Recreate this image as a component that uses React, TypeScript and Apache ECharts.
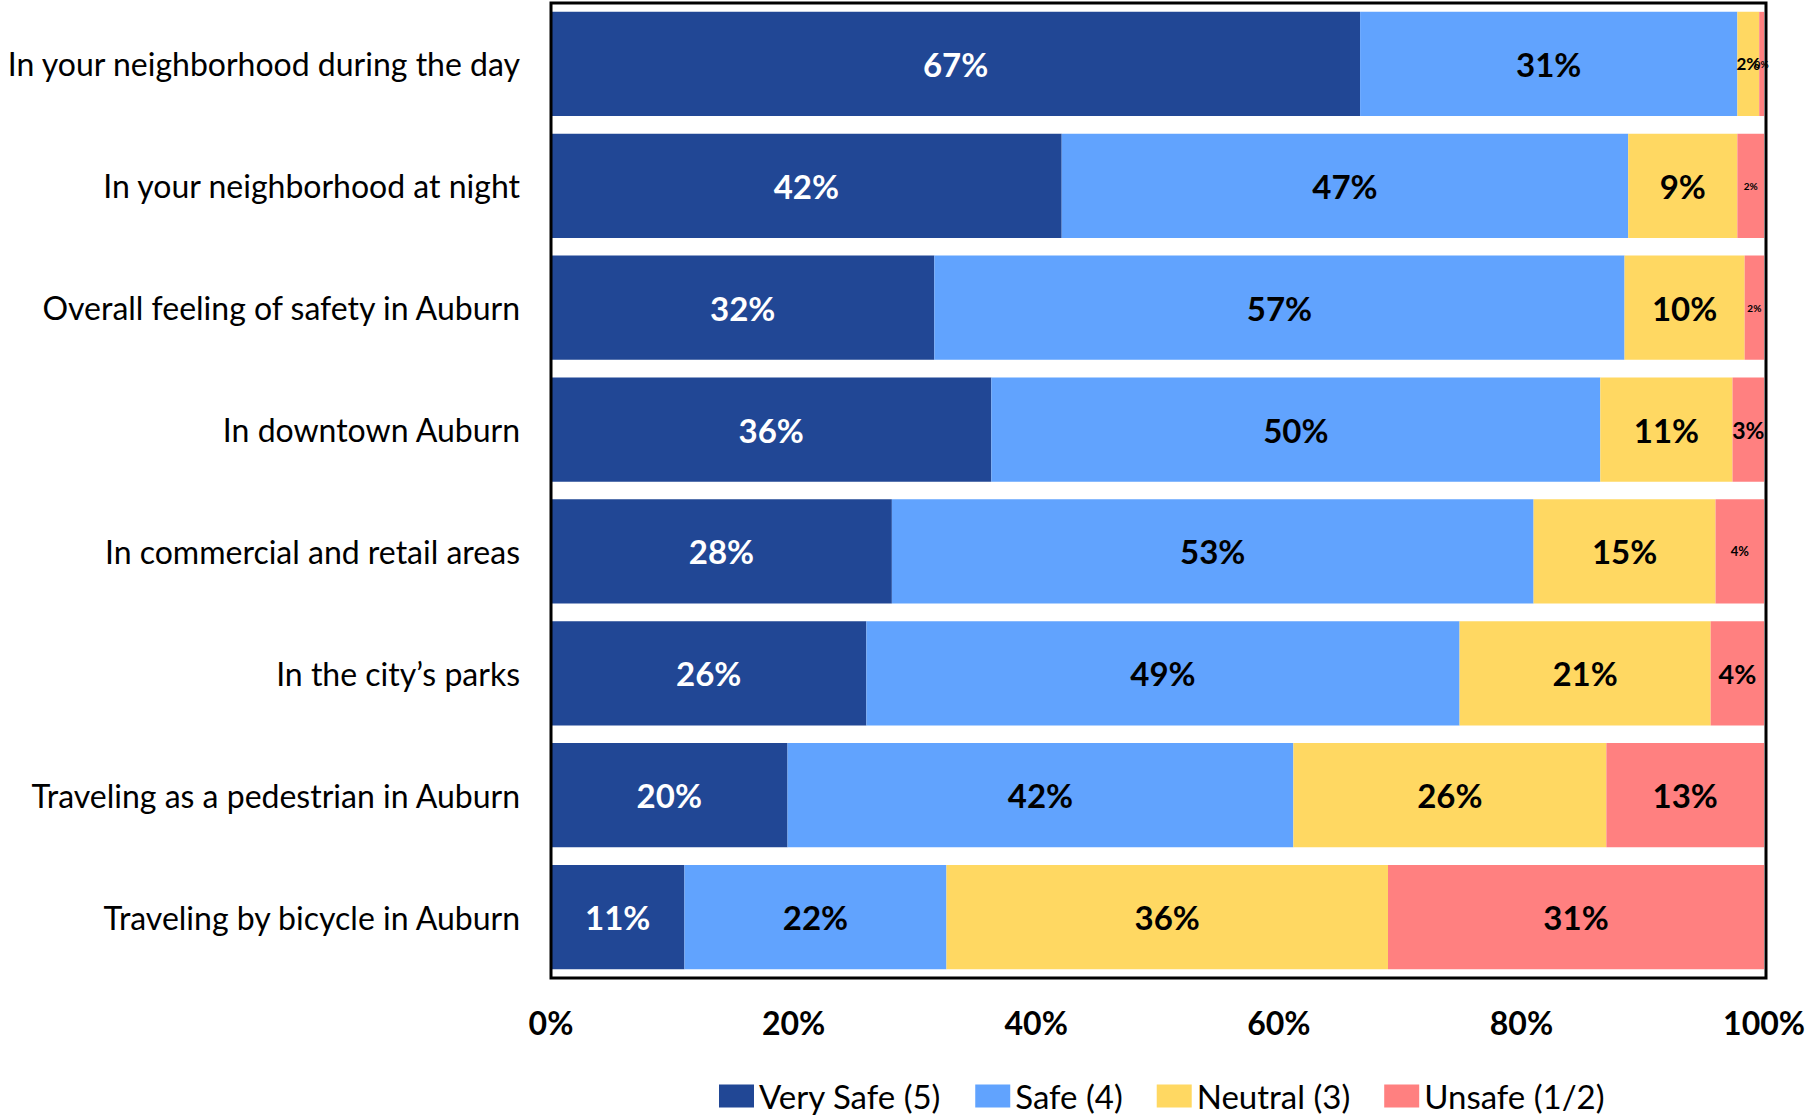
import React, { useEffect, useRef } from "react";
import * as echarts from "echarts";

// ---- data ----
const categories = [
  "In your neighborhood during the day",
  "In your neighborhood at night",
  "Overall feeling of safety in Auburn",
  "In downtown Auburn",
  "In commercial and retail areas",
  "In the city\u2019s parks",
  "Traveling as a pedestrian in Auburn",
  "Traveling by bicycle in Auburn",
];
const seriesNames = ["Very Safe (5)", "Safe (4)", "Neutral (3)", "Unsafe (1/2)"];
const verySafe = [66.7, 42.1, 31.6, 36.3, 28.1, 26.0, 19.5, 11.0];
const safe = [31.1, 46.7, 56.9, 50.2, 52.9, 48.9, 41.7, 21.6];
const neutral = [1.8, 9.0, 9.9, 10.9, 15.0, 20.7, 25.8, 36.4];
const unsafe = [0.4, 2.2, 1.6, 2.6, 4.0, 4.4, 13.0, 31.0];
const xTicks = [0, 20, 40, 60, 80, 100];

// ---- styles ----
const COLORS = ["#214795", "#61A3FE", "#FFD862", "#FF8080"];
const LABEL_COLORS = ["#ffffff", "#000000", "#000000", "#000000"];
const FONT = "Lato, 'Open Sans', sans-serif";
const MAIN_LABEL_SIZE = 33;
// font sizes of the small labels, keyed "seriesIndex-rowIndex"
const SMALL_LABEL_SIZES: Record<string, number> = {
  "2-0": 17,
  "3-0": 10,
  "3-1": 10,
  "3-2": 10,
  "3-3": 23,
  "3-4": 13,
  "3-5": 27,
};

const W = 1808;
const H = 1116;
const GRID = { left: 551, top: 3, right: 42, bottom: 138 };

export default function App() {
  const ref = useRef<HTMLDivElement>(null);

  useEffect(() => {
    if (!ref.current) return;
    const chart = echarts.init(ref.current, null, { renderer: "svg" });
    const all = [verySafe, safe, neutral, unsafe];

    const series = all.map((vals, si) => ({
      name: seriesNames[si],
      type: "bar",
      stack: "total",
      barCategoryGap: "14.5%",
      itemStyle: { color: COLORS[si] },
      label: {
        show: true,
        position: "inside",
        color: LABEL_COLORS[si],
        fontFamily: FONT,
        fontWeight: "bold",
        fontSize: MAIN_LABEL_SIZE,
        formatter: (p: any) => `${Math.round(p.value)}%`,
      },
      data: vals.map((v, ri) => {
        const fs = SMALL_LABEL_SIZES[`${si}-${ri}`];
        return fs ? { value: v, label: { fontSize: fs } } : v;
      }),
    }));

    const gw = W - GRID.left - GRID.right;
    const gh = H - GRID.top - GRID.bottom;

    chart.setOption({
      animation: false,
      backgroundColor: "#ffffff",
      grid: { ...GRID, containLabel: false },
      legend: {
        data: seriesNames,
        left: 714,
        top: 1074,
        icon: "rect",
        itemWidth: 35,
        itemHeight: 23,
        itemGap: 34,
        textStyle: { fontFamily: FONT, fontSize: 33, lineHeight: 34, color: "#000" },
      },
      xAxis: {
        type: "value",
        min: 0,
        max: 100,
        interval: 20,
        axisLine: { show: false },
        axisTick: { show: false },
        splitLine: { show: false },
        axisLabel: {
          margin: 28,
          fontFamily: FONT,
          fontWeight: "bold",
          fontSize: 32,
          color: "#000",
          formatter: (v: number) => (xTicks.includes(v) ? `${v}%` : ""),
        },
      },
      yAxis: {
        type: "category",
        data: categories,
        inverse: true,
        axisLine: { show: false },
        axisTick: { show: false },
        axisLabel: {
          margin: 31,
          fontFamily: FONT,
          fontSize: 32,
          color: "#000",
        },
      },
      graphic: [
        {
          type: "rect",
          z: 100,
          shape: { x: GRID.left, y: GRID.top, width: gw, height: gh },
          style: { fill: "none", stroke: "#000", lineWidth: 3 },
          silent: true,
        },
      ],
      series,
    });

    return () => chart.dispose();
  }, []);

  return (
    <div
      ref={ref}
      style={{ position: "absolute", left: 0, top: 0, width: W, height: H }}
    />
  );
}
